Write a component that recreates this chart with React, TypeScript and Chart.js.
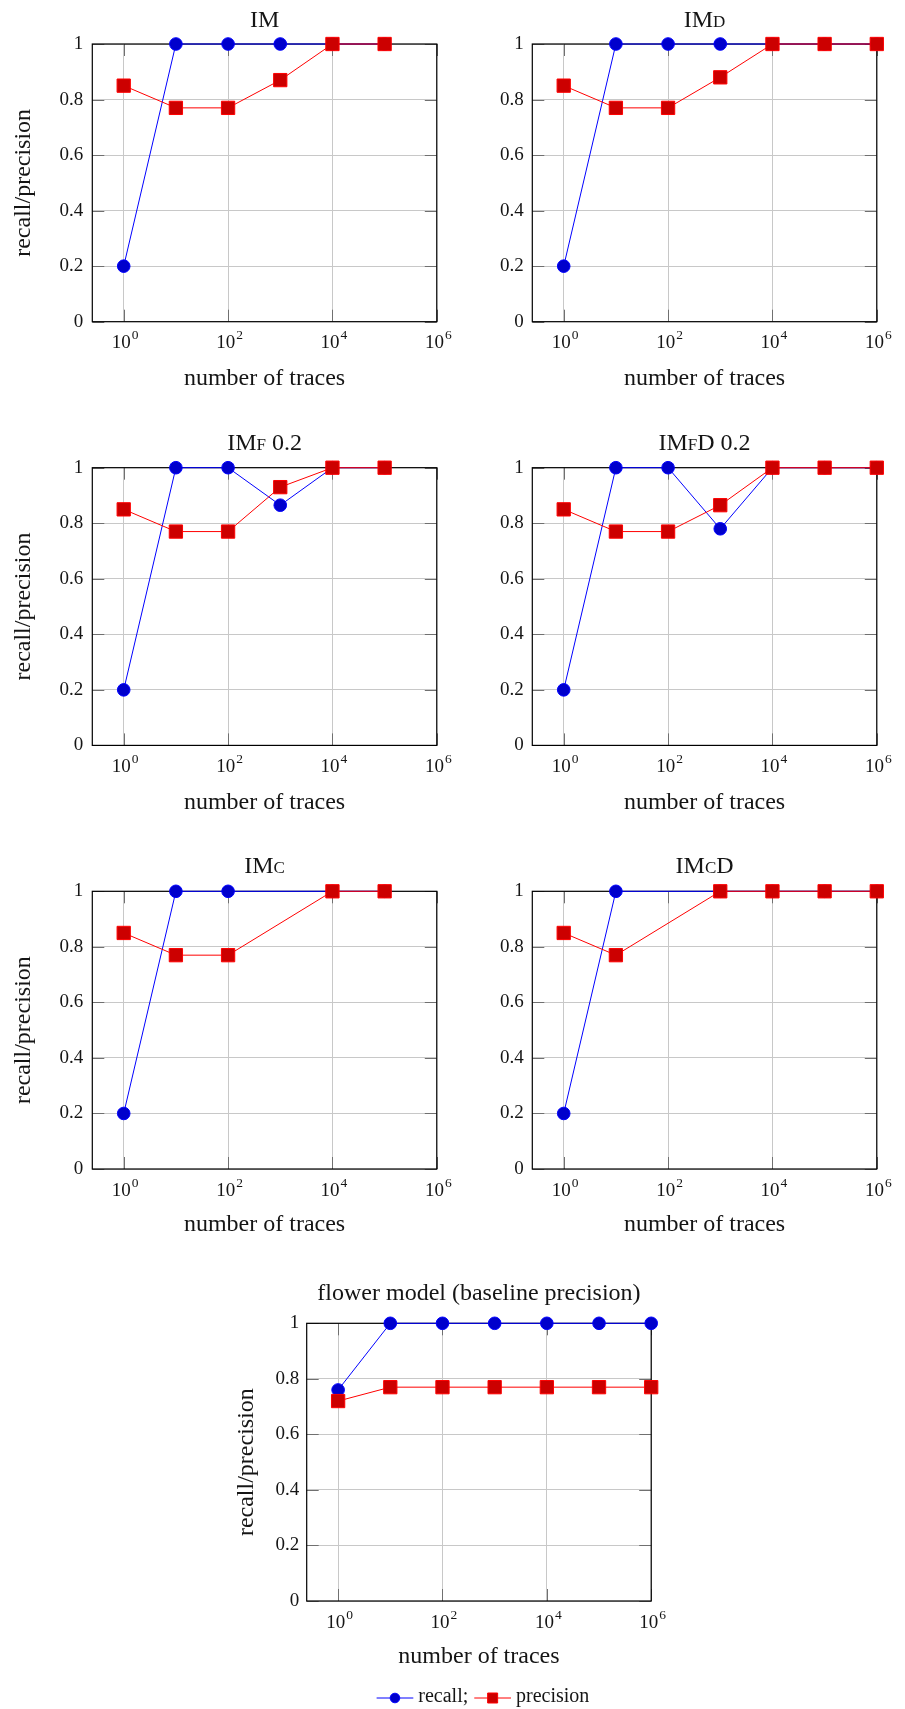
import React, { useEffect, useRef } from 'react';
import { Chart, registerables } from 'chart.js';

Chart.register(...registerables);

// ---------------- data ----------------
const traces = [1, 10, 100, 1000, 10000, 100000, 1000000];
const xTicks = [1, 100, 10000, 1000000];
const yTicks = [0, 0.2, 0.4, 0.6, 0.8, 1];
const xMin = 0.25;
const xMax = 1000000;

const imRecall = [0.2, 1, 1, 1, 1, 1];
const imPrecision = [0.85, 0.77, 0.77, 0.87, 1, 1];
const imdRecall = [0.2, 1, 1, 1, 1, 1, 1];
const imdPrecision = [0.85, 0.77, 0.77, 0.88, 1, 1, 1];
const imfRecall = [0.2, 1, 1, 0.865, 1, 1];
const imfPrecision = [0.85, 0.77, 0.77, 0.93, 1, 1];
const imfdRecall = [0.2, 1, 1, 0.78, 1, 1, 1];
const imfdPrecision = [0.85, 0.77, 0.77, 0.865, 1, 1, 1];
const imcRecall = [0.2, 1, 1, null, 1, 1];
const imcPrecision = [0.85, 0.77, 0.77, null, 1, 1];
const imcdRecall = [0.2, 1, null, 1, 1, 1, 1];
const imcdPrecision = [0.85, 0.77, null, 1, 1, 1, 1];
const flowerRecall = [0.76, 1, 1, 1, 1, 1, 1];
const flowerPrecision = [0.72, 0.77, 0.77, 0.77, 0.77, 0.77, 0.77];

const seriesNames = ['recall', 'precision'];
const legendLabels = ['recall;', 'precision'];
const xAxisTitle = 'number of traces';
const yAxisTitle = 'recall/precision';

// ---------------- style ----------------
const FONT = "'Liberation Serif', 'Times New Roman', serif";
const TEXT = '#151515';
const GRID = '#c8c8c8';
const TICK = '#707070';
const BLUE_LINE = '#0000ff';
const BLUE_FILL = '#0000cc';
const RED_LINE = '#ff0000';
const RED_FILL = '#cc0000';
const PLOT_W = 344.5;
const PLOT_H = 277.7;
const LABEL_SIZE = 24;
const TICK_SIZE = 19;
const EXP_SIZE = 13.5;

type Panel = {
  title: string;
  smallCaps: boolean;
  recall: (number | null)[];
  precision: (number | null)[];
  box: { x: number; y: number; w: number; h: number };
  L: number;
  T: number;
  titleCY: number;
  yTitleCX: number | null;
  xTitleCY: number;
  yTickPad: number;
  legend?: boolean;
};

const LEFT = { x: 0, w: 465, L: 92.3, yTitleCX: 23.3, yTickPad: 9 };
const RIGHT = { x: 455, w: 450, L: 532.3, yTitleCX: null, yTickPad: 8.5 };
const ROWS = [
  { y: 0, h: 420, T: 44, titleCY: 21, xTitleCY: 378.3 },
  { y: 420, h: 420, T: 467.7, titleCY: 444, xTitleCY: 803 },
  { y: 840, h: 420, T: 891.3, titleCY: 866.7, xTitleCY: 1225 },
];

function mk(title: string, smallCaps: boolean, recall: (number | null)[], precision: (number | null)[], col: any, row: any): Panel {
  return {
    title, smallCaps, recall, precision,
    box: { x: col.x, y: row.y, w: col.w, h: row.h },
    L: col.L, T: row.T, titleCY: row.titleCY, yTitleCX: col.yTitleCX,
    xTitleCY: row.xTitleCY, yTickPad: col.yTickPad,
  };
}

const panels: Panel[] = [
  mk('IM', false, imRecall, imPrecision, LEFT, ROWS[0]),
  mk('IMd', true, imdRecall, imdPrecision, RIGHT, ROWS[0]),
  mk('IMf 0.2', true, imfRecall, imfPrecision, LEFT, ROWS[1]),
  mk('IMfD 0.2', true, imfdRecall, imfdPrecision, RIGHT, ROWS[1]),
  mk('IMc', true, imcRecall, imcPrecision, LEFT, ROWS[2]),
  mk('IMcD', true, imcdRecall, imcdPrecision, RIGHT, ROWS[2]),
  {
    title: 'flower model (baseline precision)', smallCaps: false,
    recall: flowerRecall, precision: flowerPrecision,
    box: { x: 200, y: 1260, w: 480, h: 449 },
    L: 306.7, T: 1323.3, titleCY: 1293.3, yTitleCX: 247, xTitleCY: 1656.3, yTickPad: 7.5,
    legend: true,
  },
];

// frame, inner tick marks and power-of-ten tick labels (pgfplots look)
const framePlugin = {
  id: 'pgfFrame',
  beforeDatasetsDraw(chart: any) {
    const { ctx, chartArea: a, scales } = chart;
    const len = 12;
    ctx.save();
    ctx.lineWidth = 1;
    ctx.strokeStyle = TICK;
    ctx.beginPath();
    for (const tk of scales.x.ticks) {
      const px = Math.round(scales.x.getPixelForValue(tk.value)) + 0.5;
      ctx.moveTo(px, a.bottom); ctx.lineTo(px, a.bottom - len);
      ctx.moveTo(px, a.top); ctx.lineTo(px, a.top + len);
    }
    for (const tk of scales.y.ticks) {
      const py = Math.round(scales.y.getPixelForValue(tk.value)) + 0.5;
      ctx.moveTo(a.left, py); ctx.lineTo(a.left + len, py);
      ctx.moveTo(a.right, py); ctx.lineTo(a.right - len, py);
    }
    ctx.stroke();
    ctx.strokeStyle = '#000';
    ctx.lineWidth = 1.2;
    ctx.strokeRect(a.left, a.top, a.right - a.left, a.bottom - a.top);
    ctx.restore();
  },
  afterDraw(chart: any) {
    const { ctx, chartArea: a, scales } = chart;
    ctx.save();
    ctx.fillStyle = TEXT;
    ctx.textBaseline = 'alphabetic';
    ctx.textAlign = 'left';
    for (const tk of scales.x.ticks) {
      const px = scales.x.getPixelForValue(tk.value);
      const exp = String(Math.round(Math.log10(tk.value)));
      ctx.font = `${TICK_SIZE}px ${FONT}`;
      const wb = ctx.measureText('10').width;
      ctx.font = `${EXP_SIZE}px ${FONT}`;
      const we = ctx.measureText(exp).width;
      const gap = 1;
      const left = px + 1.5 - (wb + gap + we) / 2;
      ctx.font = `${TICK_SIZE}px ${FONT}`;
      ctx.fillText('10', left, a.bottom + 26.7);
      ctx.font = `${EXP_SIZE}px ${FONT}`;
      ctx.fillText(exp, left + wb + gap, a.bottom + 17.5);
    }
    ctx.restore();
  },
};

const legendPlugin = {
  id: 'pgfLegend',
  afterDraw(chart: any) {
    const opts = chart.options.plugins.pgfLegend;
    if (!opts || !opts.show) return;
    const { ctx, chartArea: a } = chart;
    ctx.save();
    ctx.font = `20px ${FONT}`;
    ctx.textBaseline = 'middle';
    ctx.fillStyle = TEXT;
    const lineLen = 36.7, gap = 5, itemGap = 6;
    const widths = legendLabels.map((t) => ctx.measureText(t).width);
    const total = 2 * lineLen + 2 * gap + widths[0] + widths[1] + itemGap;
    let x = (a.left + a.right) / 2 + 4 - total / 2;
    const y = opts.y;
    const styles = [
      { line: BLUE_LINE, fill: BLUE_FILL, shape: 'circle' },
      { line: RED_LINE, fill: RED_FILL, shape: 'rect' },
    ];
    styles.forEach((s, i) => {
      ctx.strokeStyle = s.line;
      ctx.lineWidth = 1;
      ctx.beginPath();
      ctx.moveTo(x, y); ctx.lineTo(x + lineLen, y);
      ctx.stroke();
      const cx = x + lineLen / 2;
      ctx.fillStyle = s.fill;
      ctx.beginPath();
      if (s.shape === 'circle') ctx.arc(cx, y, 4.8, 0, Math.PI * 2);
      else ctx.rect(cx - 5, y - 5, 10, 10);
      ctx.fill();
      ctx.stroke();
      ctx.fillStyle = TEXT;
      ctx.fillText(legendLabels[i], x + lineLen + gap, y - 1);
      x += lineLen + gap + widths[i] + itemGap;
    });
    ctx.restore();
  },
};

function buildConfig(p: Panel): any {
  const lhL = LABEL_SIZE * 1.2;
  const lhT = TICK_SIZE * 1.2;
  const bottomEdge = p.box.y + p.box.h;
  const mkData = (vals: (number | null)[]) => vals.map((v, i) => ({ x: traces[i], y: v }));
  return {
    type: 'line',
    data: {
      datasets: [
        {
          label: seriesNames[0],
          data: mkData(p.recall),
          order: 1,
          borderColor: BLUE_LINE,
          backgroundColor: BLUE_FILL,
          pointBackgroundColor: BLUE_FILL,
          pointBorderColor: BLUE_LINE,
          pointStyle: 'circle',
          pointRadius: 6.3,
          pointHoverRadius: 6.3,
          pointBorderWidth: 1,
          borderWidth: 1,
          tension: 0,
          spanGaps: true,
          clip: false,
        },
        {
          label: seriesNames[1],
          data: mkData(p.precision),
          order: 0,
          borderColor: RED_LINE,
          backgroundColor: RED_FILL,
          pointBackgroundColor: RED_FILL,
          pointBorderColor: RED_LINE,
          pointStyle: 'rect',
          pointRadius: 9.4,
          pointHoverRadius: 9.4,
          pointBorderWidth: 1,
          borderWidth: 1,
          tension: 0,
          spanGaps: true,
          clip: false,
        },
      ],
    },
    options: {
      animation: false,
      responsive: false,
      maintainAspectRatio: false,
      devicePixelRatio: 1,
      events: [],
      layout: {
        padding: { left: 0, top: 0, bottom: 0, right: p.box.x + p.box.w - (p.L + PLOT_W) },
      },
      plugins: {
        legend: { display: false },
        tooltip: { enabled: false },
        title: {
          display: true,
          text: p.title,
          fullSize: false,
          color: TEXT,
          font: { family: FONT, size: LABEL_SIZE, lineHeight: 1.2, weight: p.smallCaps ? 'small-caps' : 'normal' },
          padding: { top: p.titleCY - p.box.y - lhL / 2, bottom: p.T - p.titleCY - lhL / 2 },
        },
        pgfLegend: { show: !!p.legend, y: 1698 - p.box.y },
      },
      scales: {
        x: {
          type: 'logarithmic',
          min: xMin,
          max: xMax,
          bounds: 'data',
          afterBuildTicks: (s: any) => { s.ticks = xTicks.map((v) => ({ value: v })); },
          afterFit: (s: any) => { s.height = bottomEdge - (p.T + PLOT_H); },
          grid: { color: GRID, lineWidth: 1, drawTicks: false },
          border: { display: false },
          ticks: {
            display: false,
            autoSkip: false,
            maxRotation: 0,
            minRotation: 0,
            font: { family: FONT, size: TICK_SIZE, lineHeight: 1.2 },
          },
          title: {
            display: true,
            text: xAxisTitle,
            color: TEXT,
            font: { family: FONT, size: LABEL_SIZE, lineHeight: 1.2 },
            padding: { top: 0, bottom: bottomEdge - p.xTitleCY - lhL / 2 },
          },
        },
        y: {
          type: 'linear',
          min: 0,
          max: 1,
          afterBuildTicks: (s: any) => { s.ticks = yTicks.map((v) => ({ value: v })); },
          afterFit: (s: any) => { s.width = p.L - p.box.x; },
          grid: { color: GRID, lineWidth: 1, drawTicks: false },
          border: { display: false },
          ticks: {
            padding: p.yTickPad,
            color: TEXT,
            font: { family: FONT, size: TICK_SIZE, lineHeight: 1.2 },
            callback: (v: any) => String(Number(v)),
          },
          title: {
            display: p.yTitleCX !== null,
            text: yAxisTitle,
            color: TEXT,
            font: { family: FONT, size: LABEL_SIZE, lineHeight: 1.2 },
            padding: { top: p.yTitleCX !== null ? p.yTitleCX - p.box.x - lhL / 2 : 0, bottom: 0 },
          },
        },
      },
    },
    plugins: [framePlugin, legendPlugin],
  };
}

function PanelChart({ p }: { p: Panel }) {
  const ref = useRef<HTMLCanvasElement>(null);
  useEffect(() => {
    if (!ref.current) return;
    const chart = new Chart(ref.current, buildConfig(p));
    return () => chart.destroy();
  }, [p]);
  return (
    <canvas
      ref={ref}
      width={p.box.w}
      height={p.box.h}
      style={{ position: 'absolute', left: p.box.x, top: p.box.y, width: p.box.w, height: p.box.h }}
    />
  );
}

export default function App() {
  return (
    <div style={{ position: 'absolute', left: 0, top: 0, width: 905, height: 1709, background: '#fff', overflow: 'hidden' }}>
      {panels.map((p, i) => (
        <PanelChart key={i} p={p} />
      ))}
    </div>
  );
}
